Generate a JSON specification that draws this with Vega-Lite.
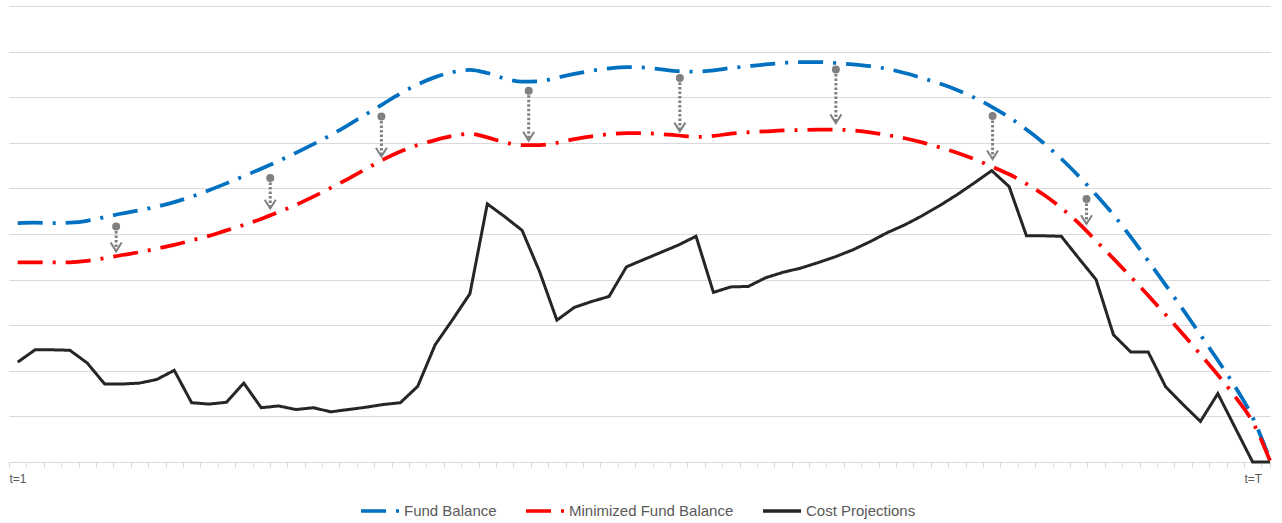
{
  "$schema": "https://vega.github.io/schema/vega-lite/v6.json",
  "width": 1261,
  "height": 456,
  "autosize": "none",
  "padding": {"left": 9, "top": 6, "right": 12, "bottom": 61},
  "background": "white",
  "config": {
    "view": {"stroke": null},
    "font": "Liberation Sans"
  },
  "datasets": {
    "series": [
      {"t":1,"Fund Balance":52.4,"Minimized Fund Balance":43.8,"Cost Projections":21.9},
      {"t":2,"Fund Balance":52.5,"Minimized Fund Balance":43.8,"Cost Projections":24.6},
      {"t":3,"Fund Balance":52.4,"Minimized Fund Balance":43.8,"Cost Projections":24.6},
      {"t":4,"Fund Balance":52.5,"Minimized Fund Balance":43.8,"Cost Projections":24.5},
      {"t":5,"Fund Balance":52.9,"Minimized Fund Balance":44.1,"Cost Projections":21.7},
      {"t":6,"Fund Balance":53.7,"Minimized Fund Balance":44.7,"Cost Projections":17.1},
      {"t":7,"Fund Balance":54.5,"Minimized Fund Balance":45.4,"Cost Projections":17.1},
      {"t":8,"Fund Balance":55.2,"Minimized Fund Balance":46.0,"Cost Projections":17.3},
      {"t":9,"Fund Balance":56.0,"Minimized Fund Balance":46.8,"Cost Projections":18.1},
      {"t":10,"Fund Balance":57.0,"Minimized Fund Balance":47.6,"Cost Projections":20.1},
      {"t":11,"Fund Balance":58.2,"Minimized Fund Balance":48.6,"Cost Projections":13.0},
      {"t":12,"Fund Balance":59.6,"Minimized Fund Balance":49.6,"Cost Projections":12.7},
      {"t":13,"Fund Balance":61.1,"Minimized Fund Balance":50.8,"Cost Projections":13.1},
      {"t":14,"Fund Balance":62.7,"Minimized Fund Balance":52.0,"Cost Projections":17.3},
      {"t":15,"Fund Balance":64.3,"Minimized Fund Balance":53.3,"Cost Projections":11.9},
      {"t":16,"Fund Balance":66.0,"Minimized Fund Balance":54.8,"Cost Projections":12.3},
      {"t":17,"Fund Balance":67.8,"Minimized Fund Balance":56.4,"Cost Projections":11.5},
      {"t":18,"Fund Balance":69.7,"Minimized Fund Balance":58.2,"Cost Projections":11.9},
      {"t":19,"Fund Balance":71.7,"Minimized Fund Balance":60.1,"Cost Projections":11.0},
      {"t":20,"Fund Balance":73.9,"Minimized Fund Balance":62.1,"Cost Projections":11.5},
      {"t":21,"Fund Balance":76.2,"Minimized Fund Balance":64.2,"Cost Projections":12.0},
      {"t":22,"Fund Balance":78.5,"Minimized Fund Balance":66.3,"Cost Projections":12.6},
      {"t":23,"Fund Balance":80.8,"Minimized Fund Balance":68.1,"Cost Projections":13.0},
      {"t":24,"Fund Balance":82.8,"Minimized Fund Balance":69.5,"Cost Projections":16.6},
      {"t":25,"Fund Balance":84.4,"Minimized Fund Balance":70.6,"Cost Projections":25.7},
      {"t":26,"Fund Balance":85.5,"Minimized Fund Balance":71.5,"Cost Projections":31.2},
      {"t":27,"Fund Balance":86.0,"Minimized Fund Balance":72.0,"Cost Projections":36.9},
      {"t":28,"Fund Balance":85.3,"Minimized Fund Balance":71.2,"Cost Projections":56.6},
      {"t":29,"Fund Balance":84.1,"Minimized Fund Balance":70.1,"Cost Projections":53.8},
      {"t":30,"Fund Balance":83.4,"Minimized Fund Balance":69.5,"Cost Projections":50.8},
      {"t":31,"Fund Balance":83.5,"Minimized Fund Balance":69.5,"Cost Projections":41.8},
      {"t":32,"Fund Balance":84.3,"Minimized Fund Balance":70.0,"Cost Projections":31.1},
      {"t":33,"Fund Balance":85.1,"Minimized Fund Balance":70.8,"Cost Projections":33.9},
      {"t":34,"Fund Balance":85.8,"Minimized Fund Balance":71.4,"Cost Projections":35.2},
      {"t":35,"Fund Balance":86.3,"Minimized Fund Balance":71.9,"Cost Projections":36.3},
      {"t":36,"Fund Balance":86.6,"Minimized Fund Balance":72.1,"Cost Projections":42.8},
      {"t":37,"Fund Balance":86.5,"Minimized Fund Balance":72.1,"Cost Projections":44.4},
      {"t":38,"Fund Balance":86.1,"Minimized Fund Balance":71.9,"Cost Projections":46.0},
      {"t":39,"Fund Balance":85.7,"Minimized Fund Balance":71.6,"Cost Projections":47.6},
      {"t":40,"Fund Balance":85.6,"Minimized Fund Balance":71.3,"Cost Projections":49.5},
      {"t":41,"Fund Balance":85.9,"Minimized Fund Balance":71.5,"Cost Projections":37.2},
      {"t":42,"Fund Balance":86.4,"Minimized Fund Balance":72.0,"Cost Projections":38.4},
      {"t":43,"Fund Balance":86.8,"Minimized Fund Balance":72.3,"Cost Projections":38.5},
      {"t":44,"Fund Balance":87.2,"Minimized Fund Balance":72.5,"Cost Projections":40.4},
      {"t":45,"Fund Balance":87.5,"Minimized Fund Balance":72.7,"Cost Projections":41.6},
      {"t":46,"Fund Balance":87.7,"Minimized Fund Balance":72.8,"Cost Projections":42.5},
      {"t":47,"Fund Balance":87.7,"Minimized Fund Balance":72.9,"Cost Projections":43.7},
      {"t":48,"Fund Balance":87.5,"Minimized Fund Balance":72.9,"Cost Projections":45.0},
      {"t":49,"Fund Balance":87.2,"Minimized Fund Balance":72.7,"Cost Projections":46.5},
      {"t":50,"Fund Balance":86.8,"Minimized Fund Balance":72.3,"Cost Projections":48.3},
      {"t":51,"Fund Balance":86.2,"Minimized Fund Balance":71.7,"Cost Projections":50.3},
      {"t":52,"Fund Balance":85.3,"Minimized Fund Balance":71.0,"Cost Projections":52.0},
      {"t":53,"Fund Balance":84.2,"Minimized Fund Balance":70.1,"Cost Projections":54.0},
      {"t":54,"Fund Balance":83.0,"Minimized Fund Balance":69.0,"Cost Projections":56.2},
      {"t":55,"Fund Balance":81.6,"Minimized Fund Balance":67.8,"Cost Projections":58.6},
      {"t":56,"Fund Balance":79.9,"Minimized Fund Balance":66.4,"Cost Projections":61.2},
      {"t":57,"Fund Balance":77.9,"Minimized Fund Balance":64.8,"Cost Projections":63.9},
      {"t":58,"Fund Balance":75.6,"Minimized Fund Balance":63.1,"Cost Projections":60.4},
      {"t":59,"Fund Balance":72.9,"Minimized Fund Balance":61.0,"Cost Projections":49.6},
      {"t":60,"Fund Balance":69.9,"Minimized Fund Balance":58.6,"Cost Projections":49.6},
      {"t":61,"Fund Balance":66.5,"Minimized Fund Balance":55.7,"Cost Projections":49.5},
      {"t":62,"Fund Balance":62.7,"Minimized Fund Balance":52.4,"Cost Projections":44.7},
      {"t":63,"Fund Balance":58.6,"Minimized Fund Balance":48.5,"Cost Projections":40.0},
      {"t":64,"Fund Balance":54.2,"Minimized Fund Balance":44.6,"Cost Projections":27.9},
      {"t":65,"Fund Balance":49.3,"Minimized Fund Balance":40.6,"Cost Projections":24.1},
      {"t":66,"Fund Balance":44.1,"Minimized Fund Balance":36.5,"Cost Projections":24.1},
      {"t":67,"Fund Balance":38.8,"Minimized Fund Balance":32.3,"Cost Projections":16.5},
      {"t":68,"Fund Balance":33.4,"Minimized Fund Balance":28.0,"Cost Projections":12.6},
      {"t":69,"Fund Balance":27.9,"Minimized Fund Balance":23.6,"Cost Projections":8.9},
      {"t":70,"Fund Balance":22.3,"Minimized Fund Balance":19.1,"Cost Projections":15.0},
      {"t":71,"Fund Balance":16.5,"Minimized Fund Balance":14.3,"Cost Projections":7.5},
      {"t":72,"Fund Balance":9.8,"Minimized Fund Balance":8.8,"Cost Projections":0},
      {"t":73,"Fund Balance":0.5,"Minimized Fund Balance":0.3,"Cost Projections":0}
    ],
    "arrows": [
      {"t":6.66,"top":51.65,"tip":46.2},
      {"t":15.52,"top":62.3,"tip":55.6},
      {"t":21.91,"top":75.75,"tip":67.0},
      {"t":30.38,"top":81.4,"tip":70.5},
      {"t":39.07,"top":84.2,"tip":72.5},
      {"t":48.04,"top":86.1,"tip":74.3},
      {"t":57.05,"top":75.9,"tip":66.4},
      {"t":62.45,"top":57.7,"tip":52.2}
    ]
  },
  "layer": [
    {
      "data": {"name": "series"},
      "transform": [
        {"fold": ["Fund Balance", "Minimized Fund Balance"], "as": ["series", "value"]}
      ],
      "mark": {"type": "line", "interpolate": "monotone", "strokeWidth": 3.75, "strokeCap": "butt"},
      "encoding": {
        "x": {
          "field": "t", "type": "quantitative",
          "scale": {"domain": [0.5, 73], "nice": false, "zero": false},
          "axis": {
            "title": null,
            "grid": false,
            "tickCount": 200,
            "values": [0.5,1.5,2.5,3.5,4.5,5.5,6.5,7.5,8.5,9.5,10.5,11.5,12.5,13.5,14.5,15.5,16.5,17.5,18.5,19.5,20.5,21.5,22.5,23.5,24.5,25.5,26.5,27.5,28.5,29.5,30.5,31.5,32.5,33.5,34.5,35.5,36.5,37.5,38.5,39.5,40.5,41.5,42.5,43.5,44.5,45.5,46.5,47.5,48.5,49.5,50.5,51.5,52.5,53.5,54.5,55.5,56.5,57.5,58.5,59.5,60.5,61.5,62.5,63.5,64.5,65.5,66.5,67.5,68.5,69.5,70.5,71.5,72.5,73],
            "labelExpr": "datum.value == 0.5 ? 't=1' : (datum.value == 71.5 ? 't=T' : '')",
            "labelAlign": "left",
            "labelOverlap": false,
            "labelFlush": false,
            "labelBound": false,
            "labelColor": "#595959",
            "labelFont": "Liberation Sans",
            "labelFontSize": 12,
            "labelPadding": 6,
            "domainColor": "#d9d9d9",
            "domainWidth": 1,
            "tickColor": "#d9d9d9",
            "tickSize": 5,
            "tickWidth": 1
          }
        },
        "y": {
          "field": "value", "type": "quantitative",
          "scale": {"domain": [0, 100], "nice": false},
          "axis": {
            "title": null,
            "values": [0,10,20,30,40,50,60,70,80,90,100],
            "labels": false,
            "ticks": false,
            "domain": false,
            "grid": true,
            "gridColor": "#d9d9d9",
            "gridWidth": 1
          }
        },
        "color": {
          "field": "series", "type": "nominal",
          "scale": {
            "domain": ["Fund Balance", "Minimized Fund Balance", "Cost Projections"],
            "range": ["#0070C0", "#FF0000", "#262626"]
          },
          "legend": {
            "title": null,
            "orient": "none",
            "direction": "horizontal",
            "legendX": 350,
            "legendY": 484,
            "symbolType": "stroke",
            "symbolSize": 1444,
            "symbolStrokeWidth": 3.5,
            "labelFont": "Liberation Sans",
            "labelFontSize": 15,
            "labelColor": "#595959",
            "labelLimit": 0,
            "labelOffset": 3,
            "columnPadding": 22,
            "padding": 0
          }
        },
        "strokeDash": {
          "field": "series", "type": "nominal",
          "scale": {
            "domain": ["Fund Balance", "Minimized Fund Balance", "Cost Projections"],
            "range": [[25, 10, 3, 10], [25, 10, 3, 10], [1, 0]]
          },
          "legend": {
            "title": null,
            "orient": "none",
            "direction": "horizontal",
            "legendX": 350,
            "legendY": 484,
            "symbolType": "stroke",
            "symbolSize": 1444,
            "symbolStrokeWidth": 3.5,
            "labelFont": "Liberation Sans",
            "labelFontSize": 15,
            "labelColor": "#595959",
            "labelLimit": 0,
            "labelOffset": 3,
            "columnPadding": 22,
            "padding": 0
          }
        }
      }
    },
    {
      "data": {"name": "series"},
      "transform": [
        {"fold": ["Cost Projections"], "as": ["series", "value"]}
      ],
      "mark": {"type": "line", "interpolate": "linear", "strokeWidth": 3, "strokeJoin": "miter"},
      "encoding": {
        "x": {"field": "t", "type": "quantitative"},
        "y": {"field": "value", "type": "quantitative"},
        "color": {"field": "series", "type": "nominal"},
        "strokeDash": {"field": "series", "type": "nominal"}
      }
    },
    {
      "data": {"name": "arrows"},
      "mark": {"type": "rule", "color": "#808080", "strokeWidth": 3, "strokeDash": [2.5, 2]},
      "encoding": {
        "x": {"field": "t", "type": "quantitative"},
        "y": {"field": "top", "type": "quantitative"},
        "y2": {"field": "tip"}
      }
    },
    {
      "data": {"name": "arrows"},
      "mark": {"type": "point", "shape": "circle", "filled": true, "color": "#808080", "size": 64, "opacity": 1},
      "encoding": {
        "x": {"field": "t", "type": "quantitative"},
        "y": {"field": "top", "type": "quantitative"}
      }
    },
    {
      "data": {"name": "arrows"},
      "mark": {"type": "point", "shape": "M-1,-1.6L0,0L1,-1.6", "filled": false, "color": "#808080", "strokeWidth": 2, "size": 121, "opacity": 1},
      "encoding": {
        "x": {"field": "t", "type": "quantitative"},
        "y": {"field": "tip", "type": "quantitative"}
      }
    }
  ]
}
